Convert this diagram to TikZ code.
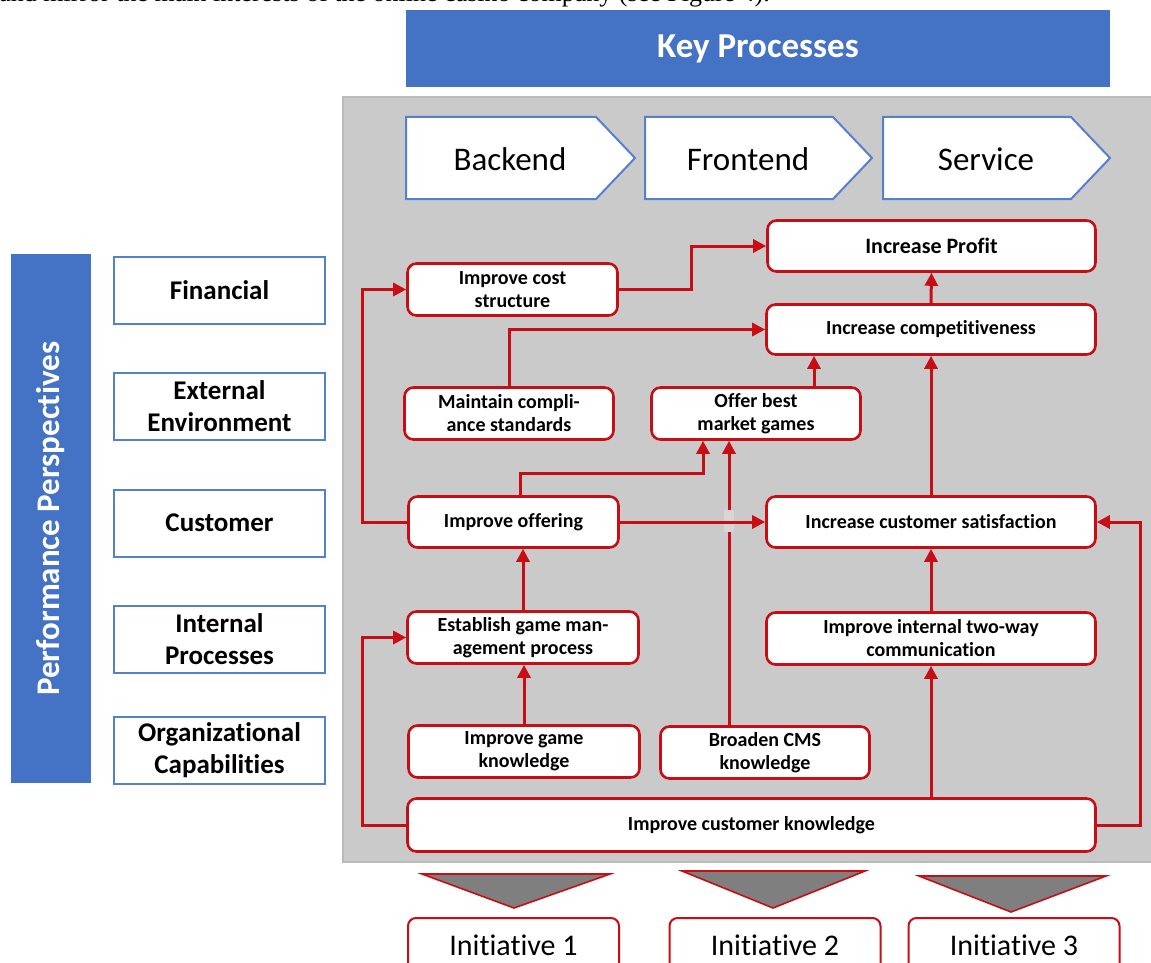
\documentclass[tikz,border=0pt]{standalone}
\usepackage{fontspec}
\setmainfont{Carlito}[Ligatures={NoCommon}]
\newfontfamily\bodyserif{Liberation Serif}
\usetikzlibrary{arrows.meta,calc}

\definecolor{kpblue}{RGB}{68,114,196}
\definecolor{edgeblue}{RGB}{84,128,208}
\definecolor{goalred}{RGB}{200,14,20}
\definecolor{panelgray}{RGB}{202,202,202}
\definecolor{panelline}{RGB}{186,186,186}
\definecolor{gapgray}{RGB}{214,214,214}
\definecolor{tipgray}{RGB}{127,127,127}

\tikzset{
  rbox/.style={draw=goalred, line width=2.6pt, fill=white, rounded corners=9pt,
    align=center, inner sep=2pt,
    font=\fontsize{20}{23}\selectfont\bfseries},
  pbox/.style={draw=edgeblue, line width=2pt, fill=white,
    minimum width=211, minimum height=67, align=center,
    font=\fontsize{27}{32}\selectfont\bfseries},
  chev/.style={draw=edgeblue, line width=2pt, fill=white, line join=miter},
  chevtext/.style={font=\fontsize{33}{40}\selectfont, inner sep=0pt},
  ibox/.style={draw=goalred, line width=2pt, fill=white, rounded corners=8pt,
    minimum width=211, minimum height=55,
    font=\fontsize{30}{36}\selectfont},
  tipshape/.style={fill=tipgray, draw=goalred, line width=1.6pt, line join=miter},
  arr/.style={draw=goalred, line width=3pt,
    -{Triangle[length=13pt,width=13pt]}},
}

\begin{document}
\begin{tikzpicture}[x=1pt,y=-1pt]
\useasboundingbox (0,0) rectangle (1151,963);
\clip (0,0) rectangle (1151,963);
\fill[white] (0,0) rectangle (1151,963);

% running text of the page above the figure
\node[anchor=base east, inner sep=0pt, font=\bodyserif\fontsize{26}{30}\selectfont]
  (bodytext) at (770,2) {and mirror the main interests of the online casino company (see Figure 4).};

% headers
\node[fill=kpblue, minimum width=704, minimum height=77, text=white,
      font=\fontsize{35}{40}\selectfont\bfseries] (keyproc) at (758,48.5) {Key Processes};
\node[fill=kpblue, rotate=90, minimum width=529, minimum height=80, text=white,
      font=\fontsize{33}{40}\selectfont\bfseries] (perfbar) at (51,518.5) {Performance Perspectives};

% perspectives
\node[pbox] (pfin) at (219.5,290.5) {Financial};
\node[pbox] (pext) at (219.5,406.5) {External\\Environment};
\node[pbox] (pcus) at (219.5,523) {Customer};
\node[pbox] (pint) at (219.5,639) {Internal\\Processes};
\node[pbox] (porg) at (219.5,750) {Organizational\\Capabilities};

% map panel
\draw[fill=panelgray, draw=panelline, line width=1.5pt] (343,97) rectangle (1160,862);

% process chevrons
\draw[chev] (406,117) -- (596,117) -- (635,158) -- (596,199) -- (406,199) -- cycle;
\draw[chev] (645,117) -- (833,117) -- (872,158) -- (833,199) -- (645,199) -- cycle;
\draw[chev] (883,117) -- (1071,117) -- (1110,158) -- (1071,199) -- (883,199) -- cycle;
\node[chevtext] (backend) at (510,159) {Backend};
\node[chevtext] (frontend) at (748,159) {Frontend};
\node[chevtext] (service) at (986,159) {Service};

% strategic objectives
\node[rbox, minimum width=328, minimum height=51, font=\fontsize{22}{26}\selectfont\bfseries] (prof) at (931.5,246) {Increase Profit};
\node[rbox, minimum width=210, minimum height=52] (cost) at (512.5,289.5) {Improve cost\\structure};
\node[rbox, minimum width=329, minimum height=50] (comp) at (931,329.5) {Increase competitiveness};
\node[rbox, minimum width=209, minimum height=52] (comply) at (509,413.5) {Maintain compli-\\ance standards};
\node[rbox, minimum width=209, minimum height=52] (offer) at (756,413.5) {Offer best\\market games};
\node[rbox, minimum width=210, minimum height=51] (offering) at (513.5,522) {Improve offering};
\node[rbox, minimum width=329, minimum height=51] (ics) at (931,522) {Increase customer satisfaction};
\node[rbox, minimum width=231, minimum height=52] (est) at (523,637.5) {Establish game man-\\agement process};
\node[rbox, minimum width=329, minimum height=52] (iic) at (931,638.5) {Improve internal two-way\\communication};
\node[rbox, minimum width=231, minimum height=52] (igk) at (524,751.5) {Improve game\\knowledge};
\node[rbox, minimum width=209, minimum height=52] (cms) at (765,752.5) {Broaden CMS\\knowledge};
\node[rbox, minimum width=688, minimum height=53] (ick) at (751.5,825) {Improve customer knowledge};

% cause-and-effect links
\draw[arr] (cost.east) -- ++(73,0) |- (prof.west);
\draw[arr] (comp.north) -- (prof.south);
\draw[arr] (comply.north) |- (comp.west);
\draw[arr] ([xshift=58pt]offer.north) -- ([xshift=58pt]offer.north |- comp.south);
\draw[arr] (ics.north) -- (comp.south);
\draw[arr] ([xshift=6.5pt]offering.north) -- ++(0,-22) -| ([xshift=-53pt]offer.south);
\draw[arr] ([xshift=-36pt]cms.north) -- ([xshift=-36pt]cms.north |- offer.south);
% line hop where the CMS link crosses the offering link
\coordinate (hop) at ([xshift=-36pt]cms.north |- offering.east);
\fill[gapgray] ($(hop)+(-5,-12)$) rectangle ($(hop)+(5,10)$);
\draw[arr] (offering.east) -- (ics.west);
\draw[arr] (offering.west) -- ++(-45,0) |- (cost.west);
\draw[arr] (est.north) -- (est.north |- offering.south);
\draw[arr] (igk.north) -- (igk.north |- est.south);
\draw[arr] (iic.north) -- (ics.south);
\draw[arr] (iic.south |- ick.north) -- (iic.south);
\draw[arr] (ick.west) -- ++(-44,0) |- (est.west);
\draw[arr] (ick.east) -- ++(44,0) |- (ics.east);

% initiatives
\draw[tipshape] (422,874) -- (610,874) -- (514,908) -- cycle;
\draw[tipshape] (682,871) -- (865,871) -- (773,908) -- cycle;
\draw[tipshape] (919,876) -- (1106,876) -- (1011,912) -- cycle;
\node[ibox] (init1) at (513.5,945.5) {Initiative 1};
\node[ibox] (init2) at (775,945.5) {Initiative 2};
\node[ibox] (init3) at (1014,945.5) {Initiative 3};
\end{tikzpicture}
\end{document}
